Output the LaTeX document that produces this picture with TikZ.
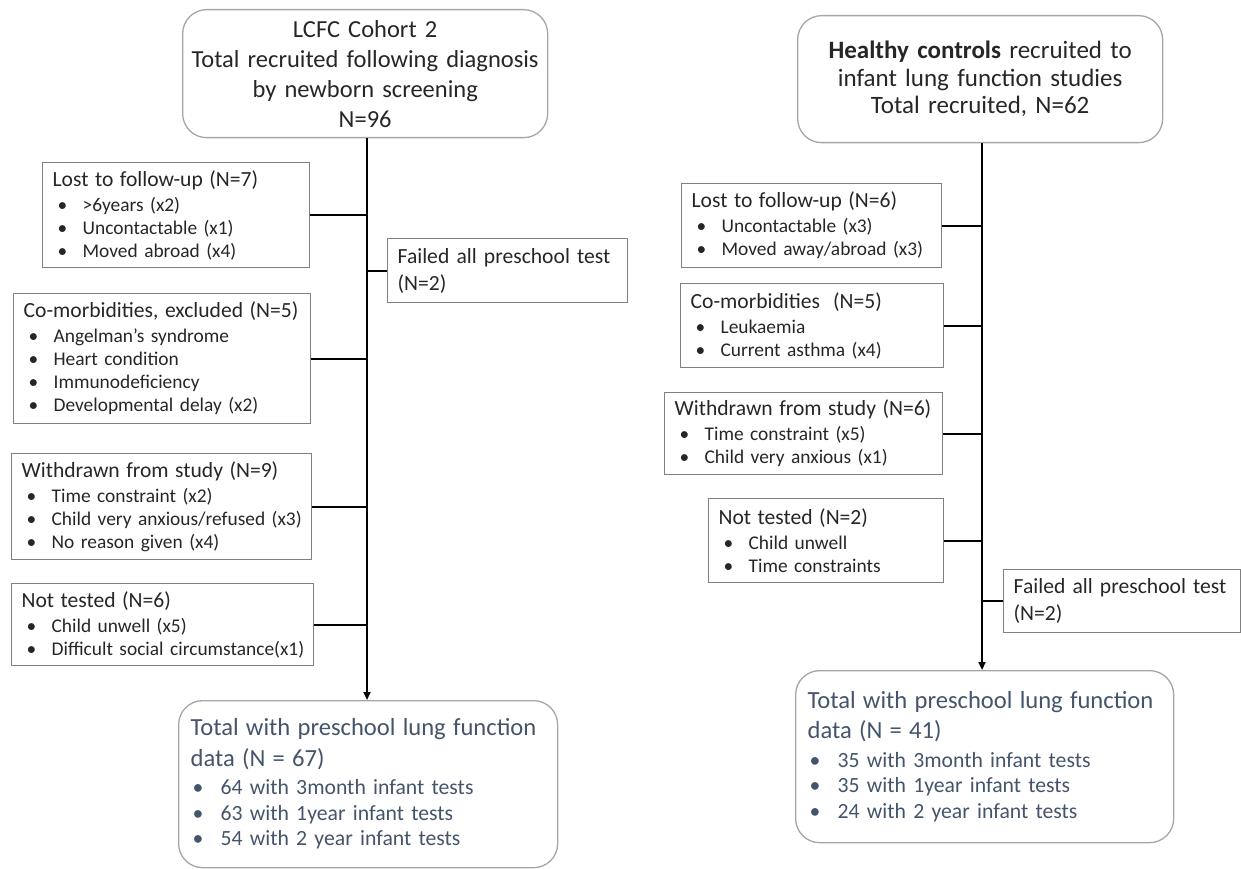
\documentclass[tikz,border=0pt]{standalone}
\usepackage{fontspec}
\setmainfont{Carlito}
\usepackage{xcolor}
\usepackage{tikz}
\usetikzlibrary{arrows.meta,positioning,calc}
\definecolor{boxgray}{HTML}{808080}
\definecolor{roundgray}{HTML}{A6A6A6}
\definecolor{slate}{HTML}{44546A}
\definecolor{inkgray}{HTML}{262626}
\newcommand{\itm}[1]{\mbox{\hspace*{5pt}\makebox[25pt][l]{\textbullet}#1}}
\newcommand{\ttl}[1]{\mbox{\fontsize{21.6}{26}\selectfont #1}\\[2pt]}
\newcommand{\blt}[1]{\mbox{\hspace*{2pt}\makebox[28pt][l]{\textbullet}#1}}

\begin{document}
\begin{tikzpicture}[x=1pt,y=-1pt,
    sidebox/.style={draw=boxgray,line width=1.3pt,anchor=north west,inner xsep=10pt,inner ysep=0pt,
        align=left,text=inkgray,font=\fontsize{19.4}{23}\selectfont},
    failbox/.style={sidebox,font=\fontsize{21.6}{27}\selectfont},
    roundbox/.style={draw=roundgray,line width=1.3pt,rounded corners=24pt,anchor=north west,inner ysep=0pt},
    topbox/.style={roundbox,inner xsep=5pt,align=center,text=inkgray},
    endbox/.style={roundbox,inner xsep=12pt,align=left,text=slate,font=\fontsize{21.7}{25.5}\selectfont},
    link/.style={line width=2pt,black}]
    \useasboundingbox (0,0) rectangle (1241,869);

    % Spines of both charts
    \coordinate (spineL) at (367,0);
    \coordinate (spineR) at (982,0);

    % Cohort (left chart)
    \node[topbox,minimum width=365,minimum height=128,text width=355pt,font=\fontsize{24.5}{30}\selectfont] (topL) at (182,9)
        {LCFC Cohort 2\\Total recruited following diagnosis\\by newborn screening\\N=96};

    \node[sidebox,minimum width=267,minimum height=105,text width=247pt] (lostL) at (42,162)
        {\ttl{Lost to follow-up (N=7)}\itm{>6years (x2)}\\\itm{Uncontactable (x1)}\\\itm{Moved abroad (x4)}};
    \node[sidebox,minimum width=297,minimum height=130,text width=277pt] (comorbL) at (13,293)
        {\ttl{Co-morbidities, excluded (N=5)}\itm{Angelman’s syndrome}\\\itm{Heart condition}\\\itm{Immunodeficiency}\\\itm{Developmental delay (x2)}};
    \node[sidebox,minimum width=300,minimum height=106,text width=280pt] (withdrawnL) at (11,453)
        {\ttl{Withdrawn from study (N=9)}\itm{Time constraint (x2)}\\\itm{Child very anxious/refused (x3)}\\\itm{No reason given (x4)}};
    \node[sidebox,minimum width=302,minimum height=82,text width=282pt] (nottestedL) at (11,583)
        {\ttl{Not tested (N=6)}\itm{Child unwell (x5)}\\\itm{Difficult social circumstance(x1)}};
    \node[failbox,minimum width=240,minimum height=64,text width=220pt] (failedL) at (387,238)
        {Failed all preschool test\\(N=2)};

    \node[endbox,minimum width=379,minimum height=167,text width=355pt] (bottomL) at (178,700)
        {{\fontsize{24.6}{31}\selectfont Total with preschool lung function\\[5pt]data (N = 67)}\\[3pt]
         \blt{64 with 3month infant tests}\\\blt{63 with 1year infant tests}\\\blt{54 with 2 year infant tests}};

    \draw[link,-{Triangle[length=8pt,width=7pt]}] (topL.south -| spineL) -- (bottomL.north -| spineL);
    \foreach \b in {lostL,comorbL,withdrawnL,nottestedL}
        \draw[link] (\b.east) -- (\b.east -| spineL);
    \draw[link] (failedL.west) -- (failedL.west -| spineL);

    % Healthy controls (right chart)
    \node[topbox,minimum width=365,minimum height=127,text width=355pt,font=\fontsize{25}{27.5}\selectfont] (topR) at (797,15)
        {\textbf{Healthy controls} recruited to\\infant lung function studies\\Total recruited, N=62};

    \node[sidebox,minimum width=260,minimum height=84,text width=240pt] (lostR) at (681,183)
        {\ttl{Lost to follow-up (N=6)}\itm{Uncontactable (x3)}\\\itm{Moved away/abroad (x3)}};
    \node[sidebox,minimum width=263,minimum height=84,text width=243pt] (comorbR) at (680,283)
        {\ttl{Co-morbidities~ (N=5)}\itm{Leukaemia}\\\itm{Current asthma (x4)}};
    \node[sidebox,minimum width=278,minimum height=82,text width=258pt] (withdrawnR) at (664,392)
        {\ttl{Withdrawn from study (N=6)}\itm{Time constraint (x5)}\\\itm{Child very anxious (x1)}};
    \node[sidebox,minimum width=235,minimum height=84,text width=215pt] (nottestedR) at (708,498)
        {\ttl{Not tested (N=2)}\itm{Child unwell}\\\itm{Time constraints}};
    \node[failbox,minimum width=237,minimum height=63,text width=217pt] (failedR) at (1003,569)
        {Failed all preschool test\\(N=2)};

    \node[endbox,minimum width=378,minimum height=172,text width=354pt] (bottomR) at (795,670)
        {{\fontsize{24.6}{31}\selectfont Total with preschool lung function\\[5pt]data (N = 41)}\\[3pt]
         \blt{35 with 3month infant tests}\\\blt{35 with 1year infant tests}\\\blt{24 with 2 year infant tests}};

    \draw[link,-{Triangle[length=8pt,width=7pt]}] (topR.south -| spineR) -- (bottomR.north -| spineR);
    \foreach \b in {lostR,comorbR,withdrawnR,nottestedR}
        \draw[link] (\b.east) -- (\b.east -| spineR);
    \draw[link] (failedR.west) -- (failedR.west -| spineR);
\end{tikzpicture}
\end{document}
